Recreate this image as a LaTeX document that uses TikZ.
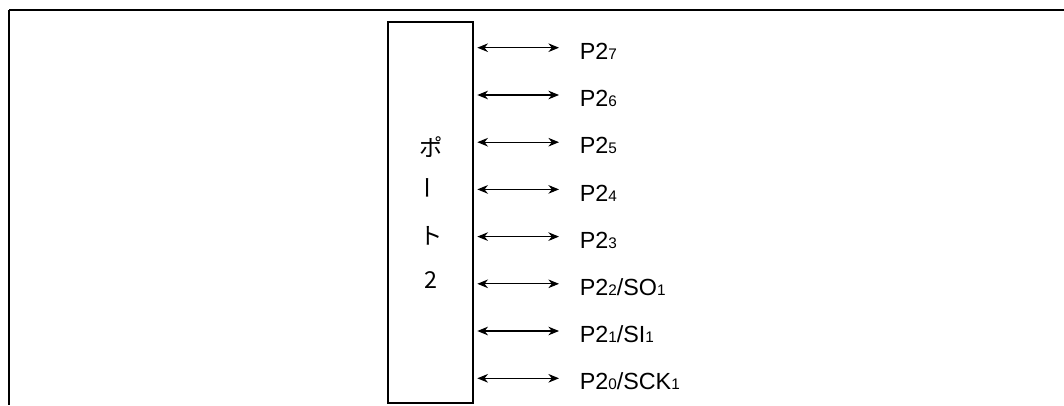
\documentclass[tikz,border=0pt]{standalone}
\usepackage{fontspec}
\setmainfont{Liberation Sans}
\newfontfamily\jpfont{Noto Sans CJK JP}
\usepackage{xcolor}
\usetikzlibrary{arrows.meta}

% small bit number, set on the base line
\newcommand{\bitno}[1]{{\fontsize{11.5pt}{11.5pt}\selectfont #1}}

\tikzset{
  portbox/.style={draw, line width=1.5pt, minimum width=63.75pt, minimum height=285.75pt, inner sep=0},
  portchar/.style={font=\jpfont\fontsize{17.5pt}{17.5pt}\selectfont, inner sep=0},
  pinlabel/.style={anchor=base west, inner sep=0, font=\fontsize{17.5pt}{17.5pt}\selectfont},
  pinarrow/.style={{Stealth[length=8pt,width=6.5pt]}-{Stealth[length=8pt,width=6.5pt]}, line width=0.8pt, shorten <=2.5pt}
}

\begin{document}
\begin{tikzpicture}[x=0.75pt, y=-0.75pt]
    \useasboundingbox (0,0) rectangle (1064,405);

    % Frame lines
    \draw[line width=0.9pt] (9,10) -- (1064,10);
    \draw[line width=0.9pt] (9,10) -- (9,405);

    % The port block
    \node[portbox] (port) at (430.5,212.5) {};
    \node[portchar] (c1) at (431,147.5) {ポ};
    \node[portchar, rotate=90] (c2) at (431,188) {ー};
    \node[portchar] (c3) at (431,236) {ト};
    \node[portchar] (c4) at (431,280) {2};

    % Arrow ends
    \coordinate (a7) at (559,47.7);
    \coordinate (a6) at (559,95);
    \coordinate (a5) at (559,142.2);
    \coordinate (a4) at (559,189.4);
    \coordinate (a3) at (559,236.6);
    \coordinate (a2) at (559,283.8);
    \coordinate (a1) at (559,331);
    \coordinate (a0) at (559,378.3);

    % Pin names
    \node[pinlabel] (p7) at ([shift={(20.5,11.6)}]a7) {P2\bitno{7}};
    \node[pinlabel] (p6) at ([shift={(20.5,11.6)}]a6) {P2\bitno{6}};
    \node[pinlabel] (p5) at ([shift={(20.5,11.6)}]a5) {P2\bitno{5}};
    \node[pinlabel] (p4) at ([shift={(20.5,11.6)}]a4) {P2\bitno{4}};
    \node[pinlabel] (p3) at ([shift={(20.5,11.6)}]a3) {P2\bitno{3}};
    \node[pinlabel] (p2) at ([shift={(20.5,11.6)}]a2) {P2\bitno{2}/SO\bitno{1}};
    \node[pinlabel] (p1) at ([shift={(20.5,11.6)}]a1) {P2\bitno{1}/SI\bitno{1}};
    \node[pinlabel] (p0) at ([shift={(20.5,11.6)}]a0) {P2\bitno{0}/SCK\bitno{1}};

    % Two-way arrows
    \draw[pinarrow] (port.east |- a7) -- (a7);
    \draw[pinarrow] (port.east |- a6) -- (a6);
    \draw[pinarrow] (port.east |- a5) -- (a5);
    \draw[pinarrow] (port.east |- a4) -- (a4);
    \draw[pinarrow] (port.east |- a3) -- (a3);
    \draw[pinarrow] (port.east |- a2) -- (a2);
    \draw[pinarrow] (port.east |- a1) -- (a1);
    \draw[pinarrow] (port.east |- a0) -- (a0);
\end{tikzpicture}
\end{document}
